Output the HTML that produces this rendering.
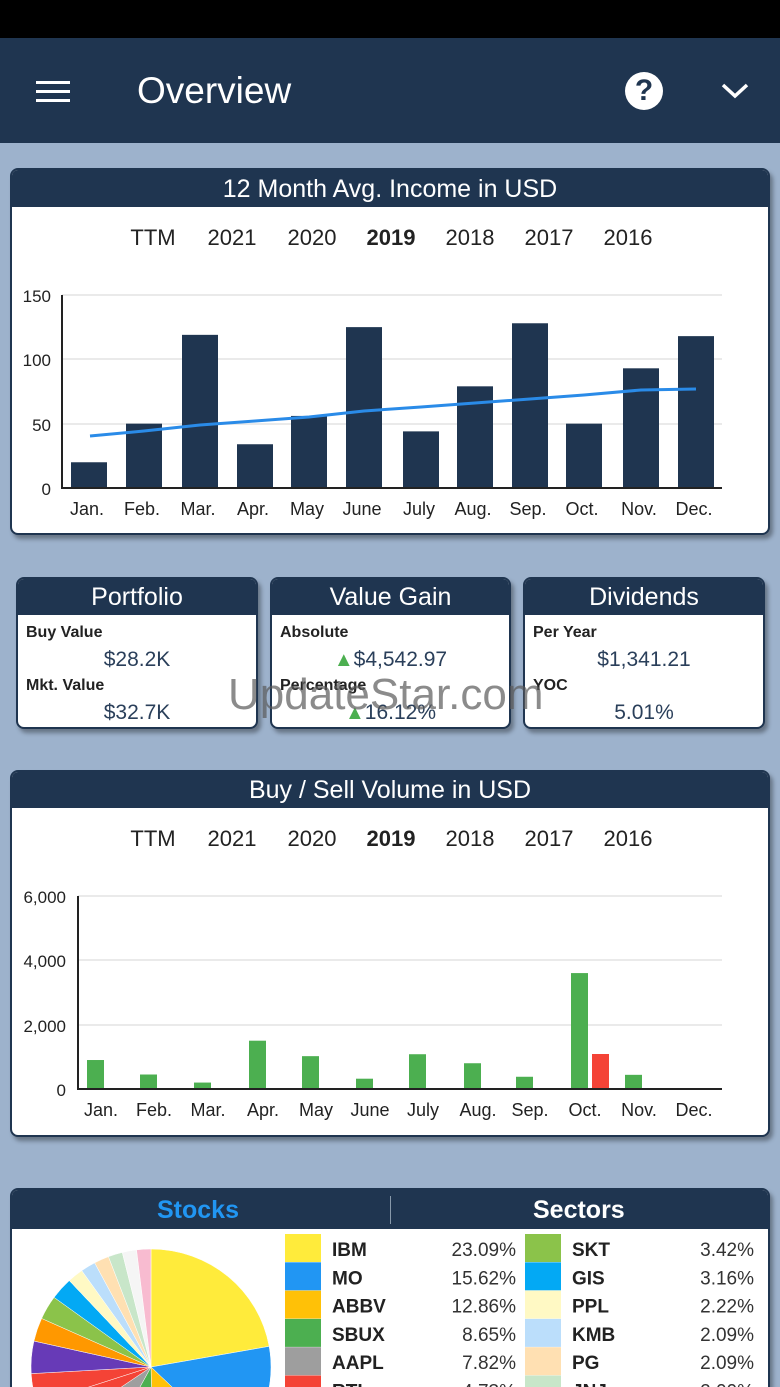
<!DOCTYPE html>
<html style="overflow:hidden;height:1387px"><head><meta charset="utf-8"><style>
body{margin:0;width:780px;height:1387px;overflow:hidden;background:#9db2cc;font-family:"Liberation Sans",sans-serif;position:relative}
.a{position:absolute}
.card{position:absolute;background:#fff;border-radius:8px;border:2px solid #1f3550;box-shadow:3px 4px 4px rgba(0,0,0,.35);overflow:hidden}
.tb{background:#1f3550;color:#fff;text-align:center}
.lbl{position:absolute;font-weight:bold;font-size:16px;color:#222}
.val{position:absolute;font-size:21px;color:#2a3f5a;text-align:center;width:100%}
</style></head><body>
<div class="a" style="left:0;top:0;width:780px;height:38px;background:#000"></div>
<div class="a" style="left:0;top:38px;width:780px;height:105px;background:#1f3550"></div>
<div class="a" style="left:36px;top:81px;width:34px;height:3px;background:#fff"></div>
<div class="a" style="left:36px;top:90px;width:34px;height:3px;background:#fff"></div>
<div class="a" style="left:36px;top:99px;width:34px;height:3px;background:#fff"></div>
<div class="a" style="left:137px;top:70px;font-size:37px;color:#fff">Overview</div>
<div class="a" style="left:625px;top:72px;width:38px;height:38px;border-radius:50%;background:#fff;color:#1f3550;font-weight:bold;font-size:30px;text-align:center;line-height:38px">?</div>
<svg class="a" style="left:720px;top:80px" width="30" height="22"><polyline points="3,5 15,16 27,5" fill="none" stroke="#fff" stroke-width="3.5"/></svg>

<div class="card" style="left:10px;top:168px;width:756px;height:363px">
<div class="tb" style="height:37px;font-size:25px;line-height:38px">12 Month Avg. Income in USD</div>
</div>

<div class="card" style="left:16px;top:577px;width:238px;height:148px">
<div class="tb" style="height:36px;font-size:25px;line-height:37px">Portfolio</div>
<div class="lbl" style="left:8px;top:45px">Buy Value</div><div class="val" style="top:69px">$28.2K</div>
<div class="lbl" style="left:8px;top:98px">Mkt. Value</div><div class="val" style="top:122px">$32.7K</div></div>
<div class="card" style="left:270px;top:577px;width:237px;height:148px">
<div class="tb" style="height:36px;font-size:25px;line-height:37px">Value Gain</div>
<div class="lbl" style="left:8px;top:45px">Absolute</div><div class="val" style="top:69px"><span style="color:#4caf50;font-size:20px">▲</span>$4,542.97</div>
<div class="lbl" style="left:8px;top:98px">Percentage</div><div class="val" style="top:122px"><span style="color:#4caf50;font-size:20px">▲</span>16.12%</div></div>
<div class="card" style="left:523px;top:577px;width:238px;height:148px">
<div class="tb" style="height:36px;font-size:25px;line-height:37px">Dividends</div>
<div class="lbl" style="left:8px;top:45px">Per Year</div><div class="val" style="top:69px">$1,341.21</div>
<div class="lbl" style="left:8px;top:98px">YOC</div><div class="val" style="top:122px">5.01%</div></div>
<div class="a" style="left:228px;top:670px;font-size:44px;color:rgba(90,90,90,.7)">UpdateStar.com</div>

<div class="card" style="left:10px;top:770px;width:756px;height:363px">
<div class="tb" style="height:36px;font-size:25px;line-height:37px">Buy / Sell Volume in USD</div></div>

<svg class="a" style="left:0;top:0" width="780" height="1387" id="s1">
<g font-size="22" fill="#222" text-anchor="middle">
<text x="153" y="245">TTM</text><text x="232" y="245">2021</text><text x="312" y="245">2020</text><text x="391" y="245" font-weight="bold">2019</text><text x="470" y="245">2018</text><text x="549" y="245">2017</text><text x="628" y="245">2016</text>
<text x="153" y="846">TTM</text><text x="232" y="846">2021</text><text x="312" y="846">2020</text><text x="391" y="846" font-weight="bold">2019</text><text x="470" y="846">2018</text><text x="549" y="846">2017</text><text x="628" y="846">2016</text>
</g>
<g stroke="#e4e4e4" stroke-width="1.5"><line x1="62" x2="722" y1="295" y2="295"/><line x1="62" x2="722" y1="359" y2="359"/><line x1="62" x2="722" y1="424" y2="424"/>
<line x1="78" x2="722" y1="896" y2="896"/><line x1="78" x2="722" y1="960" y2="960"/><line x1="78" x2="722" y1="1025" y2="1025"/></g>
<g font-size="17" fill="#222" text-anchor="end"><text x="51" y="302">150</text><text x="51" y="366">100</text><text x="51" y="431">50</text><text x="51" y="495">0</text>
<text x="66" y="903">6,000</text><text x="66" y="967">4,000</text><text x="66" y="1032">2,000</text><text x="66" y="1096">0</text></g>
<g id="b1" fill="#1f3550"></g>
<polyline fill="none" stroke="#2a8be8" stroke-width="3" points="90,436 144,431 200,425 255,421 309,417 364,411 421,407 475,403 530,399 584,395 641,390 696,389"/>
<line x1="62" x2="62" y1="295" y2="489" stroke="#222" stroke-width="2"/><line x1="62" x2="722" y1="488" y2="488" stroke="#222" stroke-width="2"/>
<g id="b2"></g>
<line x1="78" x2="78" y1="896" y2="1090" stroke="#222" stroke-width="2"/><line x1="78" x2="722" y1="1089" y2="1089" stroke="#222" stroke-width="2"/>
<g font-size="18" fill="#222" text-anchor="middle" id="xl"></g>
</svg>

<div class="card" style="left:10px;top:1188px;width:756px;height:210px">
<div class="tb" style="height:39px;font-size:25px;line-height:40px;font-weight:bold;position:relative">
<span style="position:absolute;left:145px;color:#2196f3">Stocks</span>
<span style="position:absolute;left:378px;top:6px;width:1px;height:28px;background:#8899aa"></span>
<span style="position:absolute;left:521px">Sectors</span></div></div>
<svg class="a" style="left:0;top:0" width="780" height="1387" id="s3"></svg>
<script>
var NS="http://www.w3.org/2000/svg";
function el(p,t,a,tx){var e=document.createElementNS(NS,t);for(var k in a)e.setAttribute(k,a[k]);if(tx)e.textContent=tx;p.appendChild(e);return e;}
var m=["Jan.","Feb.","Mar.","Apr.","May","June","July","Aug.","Sep.","Oct.","Nov.","Dec."];
var c1=[89,144,200,255,309,364,421,475,530,584,641,696],v1=[20,50,119,34,56,125,44,79,128,50,93,118];
var b1=document.getElementById("b1"),xl=document.getElementById("xl");
for(var i=0;i<12;i++){var h=v1[i]*1.287;el(b1,"rect",{x:c1[i]-18,y:488-h,width:36,height:h});el(xl,"text",{x:c1[i]-2,y:515},m[i]);}
var c2=[95,148,202,257,310,364,417,472,524,579,633,688],v2=[900,450,200,1500,1020,320,1080,800,380,3600,440,0];
var b2=document.getElementById("b2");
for(i=0;i<12;i++){var h=v2[i]*0.0322;if(h)el(b2,"rect",{x:c2[i]-8,y:1089-h,width:17,height:h,fill:"#4caf50"});el(xl,"text",{x:c2[i]+6,y:1116},m[i]);}
el(b2,"rect",{x:592,y:1089-35,width:17,height:35,fill:"#f44336"});
var s3=document.getElementById("s3");
var sl=[[23.09,"#ffeb3b"],[15.62,"#2196f3"],[12.86,"#ffc107"],[8.65,"#4caf50"],[7.82,"#9e9e9e"],[4.73,"#f44336"],[4.3,"#f44336"],[4.6,"#673ab7"],[3.35,"#ff9800"],[3.42,"#8bc34a"],[3.16,"#03a9f4"],[2.22,"#fff9c4"],[2.09,"#bbdefb"],[2.09,"#ffe0b2"],[2.0,"#c8e6c9"],[2.0,"#f5f5f5"],[2.0,"#f8bbd0"]];
var tot=0;sl.forEach(function(s){tot+=s[0]});var a=-Math.PI/2,cx=151,cy=1367,rx=120,ry=118;
sl.forEach(function(s){var b=a+s[0]/tot*2*Math.PI;var x1=cx+rx*Math.cos(a),y1=cy+ry*Math.sin(a),x2=cx+rx*Math.cos(b),y2=cy+ry*Math.sin(b);
el(s3,"path",{d:"M"+cx+","+cy+"L"+x1+","+y1+"A"+rx+","+ry+" 0 "+(b-a>Math.PI?1:0)+",1 "+x2+","+y2+"Z",fill:s[1],stroke:"#fff","stroke-width":0.5});a=b;});
var L=[["IBM","23.09%","#ffeb3b"],["MO","15.62%","#2196f3"],["ABBV","12.86%","#ffc107"],["SBUX","8.65%","#4caf50"],["AAPL","7.82%","#9e9e9e"],["RTL","4.73%","#f44336"]];
var R=[["SKT","3.42%","#8bc34a"],["GIS","3.16%","#03a9f4"],["PPL","2.22%","#fff9c4"],["KMB","2.09%","#bbdefb"],["PG","2.09%","#ffe0b2"],["JNJ","2.00%","#c8e6c9"]];
for(i=0;i<6;i++){var y=1234+i*28.3;
el(s3,"rect",{x:285,y:y,width:36,height:28,fill:L[i][2]});el(s3,"text",{x:332,y:y+22,"font-size":19,"font-weight":"bold",fill:"#222"},L[i][0]);el(s3,"text",{x:516,y:y+22,"font-size":19,fill:"#333","text-anchor":"end"},L[i][1]);
el(s3,"rect",{x:525,y:y,width:36,height:28,fill:R[i][2]});el(s3,"text",{x:572,y:y+22,"font-size":19,"font-weight":"bold",fill:"#222"},R[i][0]);el(s3,"text",{x:754,y:y+22,"font-size":19,fill:"#333","text-anchor":"end"},R[i][1]);}
</script>
</body></html>
